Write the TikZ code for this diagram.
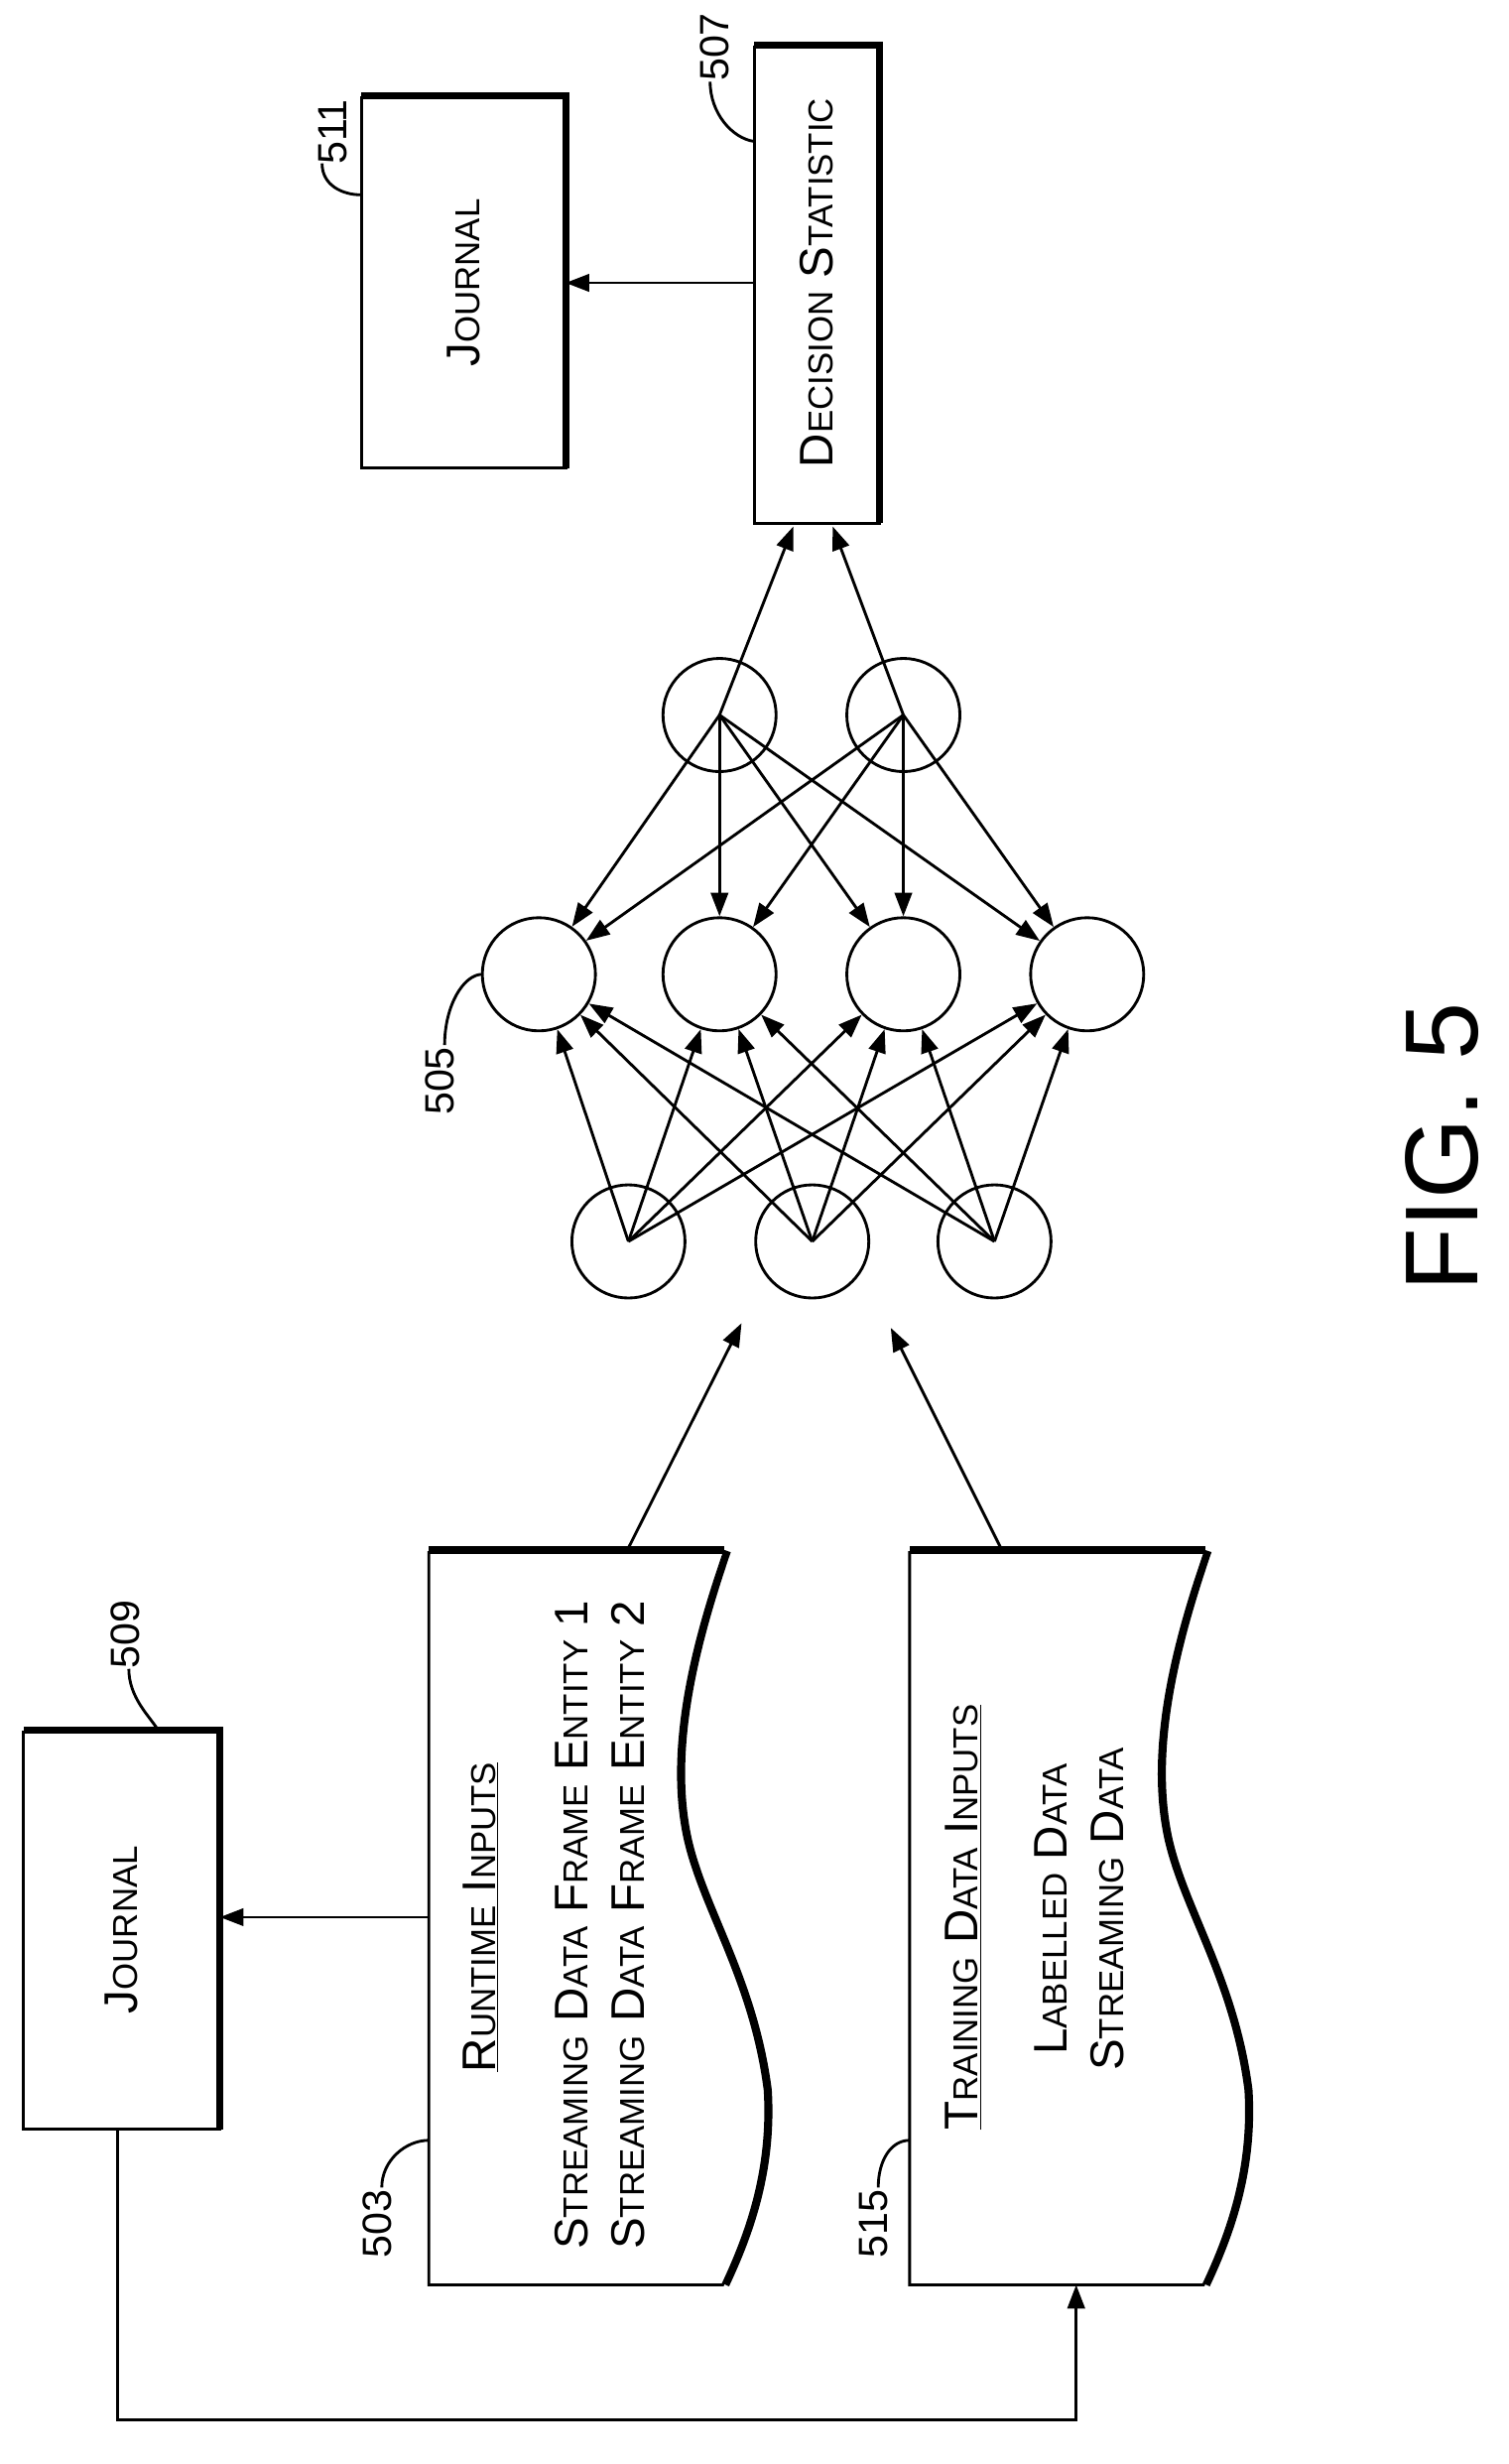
\documentclass[tikz,border=0pt]{standalone}
\usepackage{fontspec}
\setmainfont{Liberation Sans}
\usetikzlibrary{arrows.meta}
\newcommand{\SC}[2]{#1{\fontsize{22}{26}\selectfont #2}}
\begin{document}
\begin{tikzpicture}[x=1pt,y=-1pt,
  ln/.style={line width=1.8pt},
  arr/.style={ln,-{Triangle[length=15pt,width=11pt]}},
  neu/.style={circle,draw,line width=1.8pt,minimum size=72pt,inner sep=0pt},
  txt/.style={rotate=90,font=\fontsize{30}{36}\selectfont,align=center},
  lab/.style={rotate=90,font=\fontsize{26}{30}\selectfont},
  shadow/.style={line width=4.5pt}]
\useasboundingbox (0,0) rectangle (960,1568);
% boxes
\draw[ln] (230,62) rectangle (360,298);
\draw[shadow] (230,61) -- (360,61) -- (360,298);
\node (j511) [txt] at (295,180) {\SC{J}{OURNAL}};
\coordinate (b511) at (360,180);
\draw[ln] (480,30) rectangle (560,333);
\draw[shadow] (480,29) -- (560,29) -- (560,333);
\node (ds) [txt] at (520,180) {\SC{D}{ECISION} \SC{S}{TATISTIC}};
\coordinate (b507) at (480,180);
\draw[ln] (15,1102) rectangle (140,1355);
\draw[shadow] (15,1101) -- (140,1101) -- (140,1355);
\node (j509) [txt] at (77,1228) {\SC{J}{OURNAL}};
% documents
\foreach \dx/\nm in {0/d503,306/d515}{
  \begin{scope}[xshift=\dx]
  \draw[shadow] (273,986) -- (461,986);
  \draw[shadow] (463,987) .. controls (445,1040) and (425,1110) .. (438,1170) .. controls (448,1215) and (480,1260) .. (489,1330) .. controls (492,1380) and (478,1420) .. (462,1454);
  \draw[ln,fill=white] (273,988) -- (461,988) .. controls (443,1040) and (423,1110) .. (436,1170) .. controls (446,1215) and (478,1260) .. (487,1330) .. controls (490,1380) and (476,1420) .. (460,1454) -- (273,1454) -- cycle;
  \end{scope}}
\coordinate (d503) at (273,1220);
\node [txt] at (306,1220) {\underline{\SC{R}{UNTIME} \SC{I}{NPUTS}}};
\node [txt] at (382,1225) {\SC{S}{TREAMING} \SC{D}{ATA} \SC{F}{RAME} \SC{E}{NTITY} 1\\\SC{S}{TREAMING} \SC{D}{ATA} \SC{F}{RAME} \SC{E}{NTITY} 2};
\node [txt] at (613,1220) {\underline{\SC{T}{RAINING} \SC{D}{ATA} \SC{I}{NPUTS}}};
\node [txt] at (687,1215) {\SC{L}{ABELLED} \SC{D}{ATA}\\\SC{S}{TREAMING} \SC{D}{ATA}};
% neurons
\foreach \n/\x in {i1/400,i2/517,i3/633} \node[neu] (\n) at (\x,790) {};
\foreach \n/\x in {h1/343,h2/458,h3/575,h4/692} \node[neu] (\n) at (\x,620) {};
\foreach \n/\x in {o1/458,o2/575} \node[neu] (\n) at (\x,455) {};
\foreach \i in {i1,i2,i3} \foreach \h in {h1,h2,h3,h4} \draw[arr] (\i.center) -- (\h);
\foreach \o in {o1,o2} \foreach \h in {h1,h2,h3,h4} \draw[arr] (\o.center) -- (\h);
\coordinate (t1) at (505,335); \coordinate (t2) at (530,335);
\draw[arr] (o1.center) -- (t1);
\draw[arr] (o2.center) -- (t2);
% connectors
\coordinate (s1) at (400,985); \coordinate (e1) at (472,842);
\coordinate (s2) at (637,985); \coordinate (e2) at (567,845);
\draw[arr] (s1) -- (e1);
\draw[arr] (s2) -- (e2);
\draw[arr] (b507) -- (b511);
\coordinate (j509e) at (140,1220);
\draw[arr] (d503) -- (j509e);
\coordinate (lp) at (75,1355); \coordinate (d515b) at (685,1454);
\draw[arr] (lp) -- (75,1540) -- (685,1540) -- (d515b);
% labels
\node (l511) [lab] at (212,84) {511};
\draw[ln] (205,104) .. controls (205,118) and (218,124) .. (230,124);
\node (l507) [lab] at (455,30) {507};
\draw[ln] (452,52) .. controls (452,72) and (466,88) .. (480,90);
\node (l509) [lab] at (80,1040) {509};
\draw[ln] (82,1062) .. controls (82,1080) and (95,1092) .. (100,1100);
\node (l503) [lab] at (240,1415) {503};
\draw[ln] (243,1392) .. controls (243,1375) and (258,1362) .. (273,1362);
\node (l515) [lab] at (556,1415) {515};
\draw[ln] (559,1392) .. controls (559,1375) and (567,1362) .. (579,1362);
\node (l505) [lab] at (280,688) {505};
\draw[ln] (283,665) .. controls (283,640) and (295,620) .. (307,620);
\node (fig) [rotate=90,font=\fontsize{66}{70}\selectfont] at (918,730) {FIG. 5};
\end{tikzpicture}
\end{document}
